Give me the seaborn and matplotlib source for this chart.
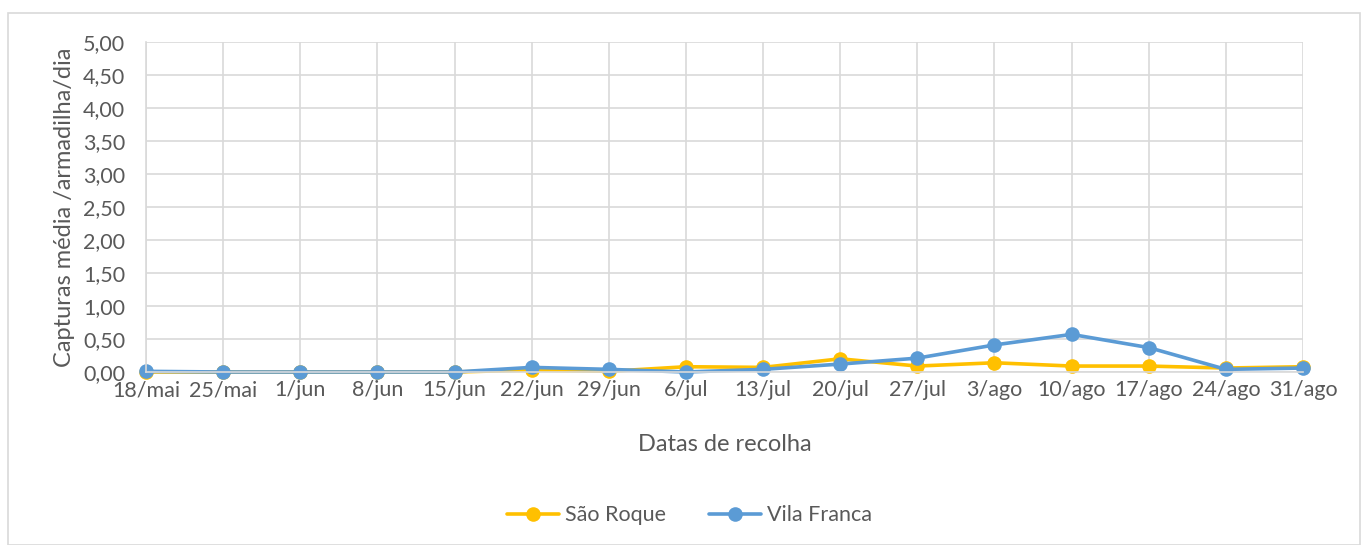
import pandas as pd
import matplotlib.pyplot as plt
import matplotlib.patches as mpatches
import seaborn as sns

datas = ["18/mai", "25/mai", "1/jun", "8/jun", "15/jun", "22/jun", "29/jun", "6/jul",
         "13/jul", "20/jul", "27/jul", "3/ago", "10/ago", "17/ago", "24/ago", "31/ago"]
sao_roque = [0.00, 0.00, 0.00, 0.00, 0.00, 0.03, 0.01, 0.08,
             0.07, 0.20, 0.09, 0.14, 0.09, 0.09, 0.06, 0.08]
vila_franca = [0.01, 0.00, 0.00, 0.00, 0.00, 0.07, 0.04, 0.00,
               0.04, 0.12, 0.21, 0.41, 0.57, 0.37, 0.04, 0.06]

df = pd.DataFrame({
    "pos": list(range(len(datas))) * 2,
    "valor": sao_roque + vila_franca,
    "serie": ["São Roque"] * len(datas) + ["Vila Franca"] * len(datas),
})

sns.set_style("white")
plt.rcParams["font.family"] = ["Lato", "DejaVu Sans"]
txt = "#595959"
grid = "#D9D9D9"

fig = plt.figure(figsize=(13.67, 5.45), dpi=100)
ax = fig.add_axes([146 / 1367, 1 - 372 / 545, (1303 - 146) / 1367, (372 - 42) / 545])

sns.lineplot(data=df, x="pos", y="valor", hue="serie", marker="o",
             palette={"São Roque": "#FFC000", "Vila Franca": "#5B9BD5"},
             linewidth=2.6, markersize=10.5, markeredgewidth=0, ax=ax)
for ln in ax.lines:
    ln.set_clip_on(False)

ax.set_xlim(0, len(datas) - 1)
ax.set_ylim(0, 5)
ax.set_xticks(range(len(datas)))
ax.set_xticklabels(datas)
yt = [i * 0.5 for i in range(11)]
ax.set_yticks(yt)
ax.set_yticklabels([f"{v:.2f}".replace(".", ",") for v in yt])
ax.grid(True, color=grid, linewidth=1.2)
ax.set_axisbelow(True)
for s in ["top", "right"]:
    ax.spines[s].set_visible(False)
for s in ["left", "bottom"]:
    ax.spines[s].set_color(grid)
    ax.spines[s].set_linewidth(1.2)
ax.tick_params(axis="both", length=0, labelsize=15.5, colors=txt)
ax.tick_params(axis="x", pad=6)
ax.tick_params(axis="y", pad=15)

ax.set_xlabel("Datas de recolha", fontsize=17, color=txt, labelpad=24)
ax.set_ylabel("Capturas média /armadilha/dia", fontsize=17, color=txt, labelpad=6)

ax.legend(loc="upper center", bbox_to_anchor=(0.47, -0.345), ncol=2, frameon=False,
          fontsize=15.5, labelcolor=txt, handlelength=2.4, columnspacing=2.0, handletextpad=0.3)

fig.patches.append(mpatches.Rectangle((8 / 1367, 0), 1352 / 1367, 1 - 13 / 545,
                                      transform=fig.transFigure, fill=False,
                                      edgecolor=grid, linewidth=1.2))

fig.savefig("out.png", dpi=100)
